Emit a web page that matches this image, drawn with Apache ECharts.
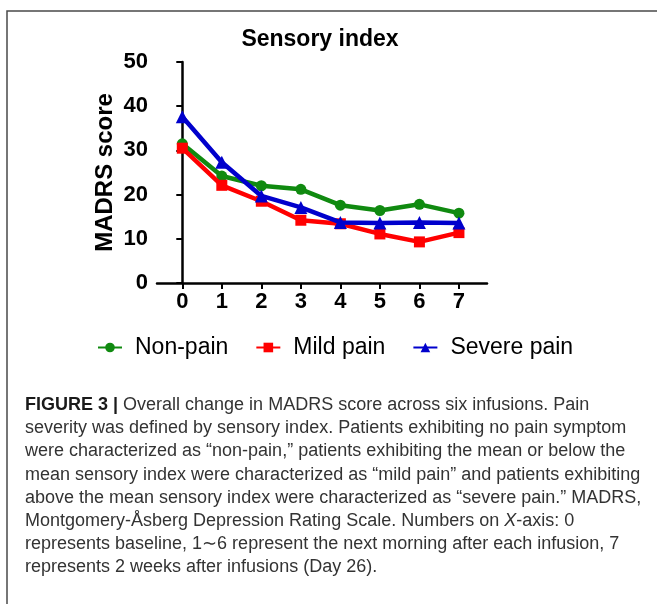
<!DOCTYPE html>
<html>
<head>
<meta charset="utf-8">
<script src="https://cdn.jsdelivr.net/npm/echarts@6/dist/echarts.min.js"></script>
<style>
  html, body { margin: 0; padding: 0; background: #fff; }
  #main { width: 657px; height: 604px; }
</style>
</head>
<body>
<div id="main"></div>
<script>
// time points on the x axis
const timePoints = [0, 1, 2, 3, 4, 5, 6, 7];
// MADRS scores
const nonPain = [31.5, 24.2, 22.0, 21.2, 17.6, 16.4, 17.8, 15.8];
const mildPain = [30.5, 22.1, 18.5, 14.2, 13.4, 11.1, 9.3, 11.4];
const severePain = [37.6, 27.3, 19.7, 17.1, 13.7, 13.6, 13.7, 13.6];
const yTicks = [0, 10, 20, 30, 40, 50];

const captionLines = [
  '{b|FIGURE 3 |} Overall change in MADRS score across six infusions. Pain',
  'severity was defined by sensory index. Patients exhibiting no pain symptom',
  'were characterized as \u201cnon-pain,\u201d patients exhibiting the mean or below the',
  'mean sensory index were characterized as \u201cmild pain\u201d and patients exhibiting',
  'above the mean sensory index were characterized as \u201csevere pain.\u201d MADRS,',
  'Montgomery-\u00c5sberg Depression Rating Scale. Numbers on {i|X}-axis: 0',
  'represents baseline, 1\u223c6 represent the next morning after each infusion, 7',
  'represents 2 weeks after infusions (Day 26).'
];

const chart = echarts.init(document.getElementById('main'));

const pairs = (ys) => timePoints.map((x, i) => [x, ys[i]]);

const captionGraphics = captionLines.map((line, i) => ({
  type: 'text',
  left: 25,
  top: 396 + i * 23.2,
  style: {
    text: line,
    font: '18px "Liberation Sans", Arial, sans-serif',
    fill: '#333',
    rich: {
      b: { fontWeight: 'bold', fontSize: 18, fontFamily: 'Liberation Sans', fill: '#1a1a1a' },
      i: { fontStyle: 'italic', fontSize: 18, fontFamily: 'Liberation Sans', fill: '#333' }
    }
  }
}));

const lineStyleFor = (color) => ({ color: color, width: 4.5 });

const option = {
  backgroundColor: '#fff',
  animation: false,
  title: {
    text: 'Sensory index',
    left: 315,
    textAlign: 'center',
    top: 23,
    textStyle: {
      fontFamily: 'Liberation Sans',
      fontWeight: 'bold',
      fontSize: 23,
      color: '#000'
    }
  },
  legend: {
    left: 92,
    top: 331,
    itemWidth: 24,
    itemHeight: 12,
    itemGap: 27,
    textStyle: {
      fontFamily: 'Liberation Sans',
      fontSize: 23,
      color: '#000',
      padding: [0, 0, 0, 8]
    },
    data: ['Non-pain', 'Mild pain', 'Severe pain']
  },
  grid: {
    left: 157,
    right: 170,
    top: 62,
    bottom: 321,
    containLabel: false
  },
  xAxis: {
    type: 'value',
    min: -0.64,
    max: 7.71,
    splitLine: { show: false },
    axisLine: { lineStyle: { color: '#000', width: 2.5 } },
    axisTick: {
      show: true,
      length: 6,
      lineStyle: { color: '#000', width: 2 },
      customValues: timePoints
    },
    axisLabel: {
      margin: 8,
      fontFamily: 'Liberation Sans',
      fontWeight: 'bold',
      fontSize: 22,
      color: '#000',
      customValues: timePoints
    }
  },
  yAxis: {
    type: 'value',
    min: 0,
    max: 50,
    interval: 10,
    name: 'MADRS score',
    nameLocation: 'middle',
    nameGap: 40,
    nameMoveOverlap: false,
    nameTextStyle: {
      fontFamily: 'Liberation Sans',
      fontWeight: 'bold',
      fontSize: 24,
      color: '#000'
    },
    splitLine: { show: false },
    axisLine: { show: true, lineStyle: { color: '#000', width: 2.5 } },
    axisTick: { show: true, length: 6, lineStyle: { color: '#000', width: 2 } },
    axisLabel: {
      margin: 9,
      fontFamily: 'Liberation Sans',
      fontWeight: 'bold',
      fontSize: 22,
      color: '#000',
      customValues: yTicks
    }
  },
  series: [
    {
      name: 'Non-pain',
      type: 'line',
      data: pairs(nonPain),
      symbol: 'circle',
      symbolSize: 11,
      color: '#108a10',
      lineStyle: lineStyleFor('#108a10'),
      itemStyle: { color: '#108a10' },
      z: 2
    },
    {
      name: 'Mild pain',
      type: 'line',
      data: pairs(mildPain),
      symbol: 'rect',
      symbolSize: 11,
      color: '#ff0000',
      lineStyle: lineStyleFor('#ff0000'),
      itemStyle: { color: '#ff0000' },
      z: 3
    },
    {
      name: 'Severe pain',
      type: 'line',
      data: pairs(severePain),
      symbol: 'triangle',
      symbolSize: 13,
      color: '#0000cc',
      lineStyle: lineStyleFor('#0000cc'),
      itemStyle: { color: '#0000cc' },
      z: 4
    }
  ],
  graphic: [
    {
      type: 'polyline',
      shape: { points: [[7, 700], [7, 11], [700, 11]] },
      style: { stroke: '#4a4a4a', lineWidth: 1.5, fill: null }
    }
  ].concat(captionGraphics)
};

chart.setOption(option);
</script>
</body>
</html>
